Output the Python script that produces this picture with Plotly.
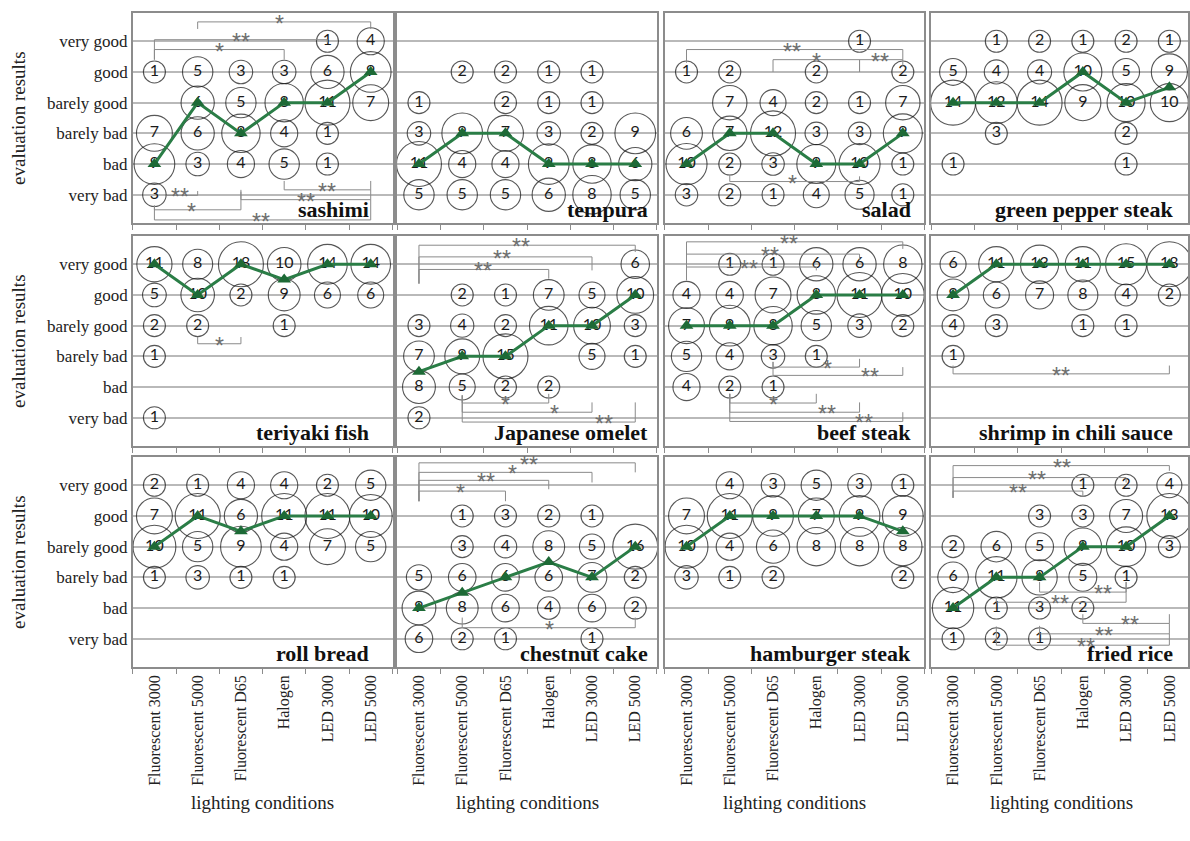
import numpy as np
import plotly.graph_objects as go

conditions = ["Fluorescent 3000", "Fluorescent 5000", "Fluorescent D65", "Halogen", "LED 3000", "LED 5000"]
levels = ["very bad", "bad", "barely bad", "barely good", "good", "very good"]  # y = 1..6

# counts per lighting condition, listed [very bad, bad, barely bad, barely good, good, very good]
sashimi = [[3, 9, 7, 0, 1, 0], [0, 3, 6, 6, 5, 0], [0, 4, 8, 5, 3, 0],
           [0, 5, 4, 8, 3, 0], [0, 1, 1, 11, 6, 1], [0, 0, 0, 7, 9, 4]]
sashimi_median = [2, 4, 3, 4, 4, 5]

tempura = [[5, 11, 3, 1, 0, 0], [5, 4, 9, 0, 2, 0], [5, 4, 7, 2, 2, 0],
           [6, 9, 3, 1, 1, 0], [8, 8, 2, 1, 1, 0], [5, 6, 9, 0, 0, 0]]
tempura_median = [2, 3, 3, 2, 2, 2]

salad = [[3, 10, 6, 0, 1, 0], [2, 2, 7, 7, 2, 0], [1, 3, 12, 4, 0, 0],
         [4, 9, 3, 2, 2, 0], [5, 10, 3, 1, 0, 1], [1, 1, 9, 7, 2, 0]]
salad_median = [2, 3, 3, 2, 2, 3]

green_pepper = [[0, 1, 0, 14, 5, 0], [0, 0, 3, 12, 4, 1], [0, 0, 0, 14, 4, 2],
                [0, 0, 0, 9, 10, 1], [0, 1, 2, 10, 5, 2], [0, 0, 0, 10, 9, 1]]
green_pepper_median = [4, 4, 4, 5, 4, 4.5]

teriyaki = [[1, 0, 1, 2, 5, 11], [0, 0, 0, 2, 10, 8], [0, 0, 0, 0, 2, 18],
            [0, 0, 0, 1, 9, 10], [0, 0, 0, 0, 6, 14], [0, 0, 0, 0, 6, 14]]
teriyaki_median = [6, 5, 6, 5.5, 6, 6]

omelet = [[2, 8, 7, 3, 0, 0], [0, 5, 9, 4, 2, 0], [0, 2, 15, 2, 1, 0],
          [0, 2, 0, 11, 7, 0], [0, 0, 5, 10, 5, 0], [0, 0, 1, 3, 10, 6]]
omelet_median = [2.5, 3, 3, 4, 4, 5]

beef = [[0, 4, 5, 7, 4, 0], [0, 2, 4, 9, 4, 1], [0, 1, 3, 8, 7, 1],
        [0, 0, 1, 5, 8, 6], [0, 0, 0, 3, 11, 6], [0, 0, 0, 2, 10, 8]]
beef_median = [4, 4, 4, 5, 5, 5]

shrimp = [[0, 0, 1, 4, 9, 6], [0, 0, 0, 3, 6, 11], [0, 0, 0, 0, 7, 13],
          [0, 0, 0, 1, 8, 11], [0, 0, 0, 1, 4, 15], [0, 0, 0, 0, 2, 18]]
shrimp_median = [5, 6, 6, 6, 6, 6]

roll_bread = [[0, 0, 1, 10, 7, 2], [0, 0, 3, 5, 11, 1], [0, 0, 1, 9, 6, 4],
              [0, 0, 1, 4, 11, 4], [0, 0, 0, 7, 11, 2], [0, 0, 0, 5, 10, 5]]
roll_bread_median = [4, 5, 4.5, 5, 5, 5]

chestnut = [[6, 9, 5, 0, 0, 0], [2, 8, 6, 3, 1, 0], [1, 6, 6, 4, 3, 0],
            [0, 4, 6, 8, 2, 0], [1, 6, 7, 5, 1, 0], [0, 2, 2, 16, 0, 0]]
chestnut_median = [2, 2.5, 3, 3.5, 3, 4]

hamburger = [[0, 0, 3, 10, 7, 0], [0, 0, 1, 4, 11, 4], [0, 0, 2, 6, 9, 3],
             [0, 0, 0, 8, 7, 5], [0, 0, 0, 8, 9, 3], [0, 0, 2, 8, 9, 1]]
hamburger_median = [4, 5, 5, 5, 5, 4.5]

fried_rice = [[1, 11, 6, 2, 0, 0], [2, 1, 11, 6, 0, 0], [1, 3, 8, 5, 3, 0],
              [0, 2, 5, 9, 3, 1], [0, 0, 1, 10, 7, 2], [0, 0, 0, 3, 13, 4]]
fried_rice_median = [2, 3, 3, 4, 4, 5]

# significance brackets: (from, to, line level, left tick end, right tick end, label, label position)
sashimi_br = [(1, 5, 6.63, 6.40, 6.40, "*", 2.9), (0, 4, 6.05, 5.40, 5.95, "**", 2.0),
              (0, 3, 5.73, 5.40, 5.40, "*", 1.5), (3, 5, 1.16, 1.45, 1.45, "**", 4.0),
              (0.28, 1, 0.98, 0.98, 1.12, "**", 0.6), (2, 5, 0.84, 1.16, 1.16, "**", 3.5),
              (0, 2, 0.51, 0.65, 1.10, "*", 0.85), (0, 5, 0.18, 0.65, 0.84, "**", 2.46)]
salad_br = [(0, 5, 5.73, 5.30, 5.40, "**", 2.44), (2, 4, 5.40, 5.00, 5.00, "*", 3.0),
            (4, 5, 5.40, 5.00, 5.20, "**", 4.48), (1, 4, 1.43, 1.65, 1.60, "*", 2.44)]
teriyaki_br = [(1, 2, 3.41, 3.63, 3.63, "*", 1.5)]
omelet_br = [(0, 5, 6.62, 5.37, 6.40, "**", 2.36), (0, 4, 6.24, 5.37, 5.80, "**", 1.93),
             (0, 3, 5.83, 5.37, 5.53, "**", 1.47), (1, 3, 1.48, 1.73, 1.78, "*", 2.0),
             (1, 4, 1.18, 1.73, 1.50, "*", 3.13), (1, 5, 0.86, 1.73, 1.50, "**", 4.28)]
beef_br = [(0, 5, 6.73, 5.48, 6.50, "**", 2.36), (0, 4, 6.33, 5.48, 6.15, "**", 1.94),
           (0, 3, 5.91, 5.48, 5.80, "**", 1.44), (2, 4, 2.65, 2.82, 2.92, "*", 3.25),
           (2, 5, 2.38, 2.82, 2.65, "**", 4.25), (1, 3, 1.48, 1.78, 1.78, "*", 2.02),
           (1, 4, 1.18, 1.78, 1.50, "**", 3.25), (1, 5, 0.88, 1.78, 1.18, "**", 4.10)]
shrimp_br = [(0, 5, 2.43, 2.70, 2.70, "**", 2.5)]
chestnut_br = [(0, 5, 6.73, 5.48, 6.42, "**", 2.55), (0, 4, 6.42, 5.48, 6.09, "*", 2.16),
               (0, 3, 6.16, 5.48, 5.87, "**", 1.55), (0, 2, 5.81, 5.48, 5.48, "*", 0.97),
               (1, 5, 1.36, 1.69, 1.69, "*", 3.01)]
fried_rice_br = [(0, 5, 6.64, 5.59, 6.47, "**", 2.51), (0, 4, 6.25, 5.59, 6.09, "**", 1.93),
                 (0, 3, 5.81, 5.59, 5.65, "**", 1.51), (2, 4, 2.52, 2.85, 2.85, "**", 3.47),
                 (1, 4, 2.19, 2.35, 2.85, "**", 2.47), (3, 5, 1.50, 1.80, 1.80, "**", 4.09),
                 (2, 5, 1.16, 1.42, 1.50, "**", 3.50), (1, 5, 0.79, 1.40, 1.16, "**", 3.08)]

panels = [
    ("sashimi", sashimi, sashimi_median, sashimi_br),
    ("tempura", tempura, tempura_median, []),
    ("salad", salad, salad_median, salad_br),
    ("green pepper steak", green_pepper, green_pepper_median, []),
    ("teriyaki fish", teriyaki, teriyaki_median, teriyaki_br),
    ("Japanese omelet", omelet, omelet_median, omelet_br),
    ("beef steak", beef, beef_median, beef_br),
    ("shrimp in chili sauce", shrimp, shrimp_median, shrimp_br),
    ("roll bread", roll_bread, roll_bread_median, []),
    ("chestnut cake", chestnut, chestnut_median, chestnut_br),
    ("hamburger steak", hamburger, hamburger_median, []),
    ("fried rice", fried_rice, fried_rice_median, fried_rice_br),
]

W, H = 1190, 841
col_px = [(133, 394), (398, 658), (666, 926), (933, 1190)]
row_px = [(13, 223), (236, 446), (457, 667)]
title_x = [0.915, 0.972, 0.955, 0.95]
SERIF = "Liberation Serif, Times New Roman, serif"
MAXD = 45.0

fig = go.Figure()
layout = dict(width=W, height=H, margin=dict(l=0, r=0, t=0, b=0),
              paper_bgcolor="white", plot_bgcolor="white", showlegend=False)

annotations = []
shapes = []
for k, (name, counts, median, brackets) in enumerate(panels):
    r, c = divmod(k, 4)
    sfx = "" if k == 0 else str(k + 1)
    xr, yr = "x" + sfx, "y" + sfx
    counts = np.array(counts)
    nmax = counts.max()
    xs, ys, ns = [], [], []
    for ci in range(len(conditions)):
        for li in range(len(levels)):
            n = counts[ci, li]
            if n > 0:
                xs.append(conditions[ci]); ys.append(li + 1); ns.append(int(n))
    sizes = [MAXD * np.sqrt(n / nmax) for n in ns]
    fig.add_trace(go.Scatter(
        x=xs, y=ys, mode="markers+text", text=[str(n) for n in ns],
        textposition="middle center",
        textfont=dict(family="Lato, Carlito, sans-serif", size=16, color="#1a1a1a"),
        marker=dict(size=sizes, sizemin=11, color="rgba(0,0,0,0)",
                    line=dict(color="#111111", width=1.1)),
        xaxis=xr, yaxis=yr, hoverinfo="skip", cliponaxis=False))
    fig.add_trace(go.Scatter(
        x=conditions, y=median, mode="lines+markers",
        line=dict(color="#2a7d46", width=3),
        marker=dict(symbol="triangle-up", size=12, color="#1d6a36"),
        xaxis=xr, yaxis=yr, hoverinfo="skip"))

    x0p, x1p = col_px[c]
    y0p, y1p = row_px[r]
    xmax = 5.5 - (x0p + 260 - x1p) / (260 / 6)
    layout["xaxis" + sfx] = dict(
        domain=[x0p / W, x1p / W], anchor=yr, type="category",
        categoryorder="array", categoryarray=conditions,
        range=[-0.5, xmax], tickson="boundaries", ticks="outside", ticklen=5,
        tickcolor="#8c8c8c", showline=True, mirror=True, linecolor="#8c8c8c",
        linewidth=1.5, showgrid=False, zeroline=False,
        showticklabels=(r == 2), tickangle=-90,
        tickfont=dict(family=SERIF, size=16, color="#222222"))
    layout["yaxis" + sfx] = dict(
        domain=[1 - y1p / H, 1 - y0p / H], anchor=xr, range=[0.08, 6.92],
        tickvals=[1, 2, 3, 4, 5, 6], ticktext=levels, showticklabels=(c == 0),
        tickfont=dict(family=SERIF, size=17, color="#222222"), ticks="",
        showgrid=True, gridcolor="#b9b9b9", gridwidth=1.5, zeroline=False,
        showline=True, mirror=True, linecolor="#8c8c8c", linewidth=1.5)

    for (i, j, yl, ya, yb, lab, lx) in brackets:
        for (a0, b0, a1, b1) in [(i, ya, i, yl), (i, yl, j, yl), (j, yl, j, yb)]:
            if a0 == a1 and b0 == b1:
                continue
            shapes.append(dict(type="line", xref=xr, yref=yr, x0=a0, y0=b0, x1=a1, y1=b1,
                               line=dict(color="#8a8a8a", width=1)))
        annotations.append(dict(xref=xr, yref=yr, x=lx, y=yl, text=lab, showarrow=False,
                                xanchor="center", yanchor="middle", yshift=-2,
                                font=dict(family="Liberation Sans, Arial, sans-serif",
                                          size=23, color="#6e6e6e")))

    annotations.append(dict(xref=xr + " domain", yref=yr + " domain", x=title_x[c], y=0.065,
                            text=name, showarrow=False, xanchor="right", yanchor="middle",
                            font=dict(family=SERIF, size=22, color="#111111", weight="bold")))

for r, (y0p, y1p) in enumerate(row_px):
    annotations.append(dict(xref="paper", yref="paper", x=18 / W, y=1 - (y0p + y1p) / 2 / H,
                            text="evaluation results", textangle=-90, showarrow=False,
                            xanchor="center", yanchor="middle",
                            font=dict(family=SERIF, size=19, color="#222222")))
for c, (x0p, x1p) in enumerate(col_px):
    cx = (x0p + min(x0p + 260, W + 3)) / 2
    annotations.append(dict(xref="paper", yref="paper", x=cx / W, y=1 - 802 / H,
                            text="lighting conditions", showarrow=False,
                            xanchor="center", yanchor="middle",
                            font=dict(family=SERIF, size=19, color="#222222")))

layout["annotations"] = annotations
layout["shapes"] = shapes
fig.update_layout(**layout)
fig.write_html("out.html", config={"displayModeBar": False},
               post_script="document.body.style.margin='0';document.body.style.padding='0';")
